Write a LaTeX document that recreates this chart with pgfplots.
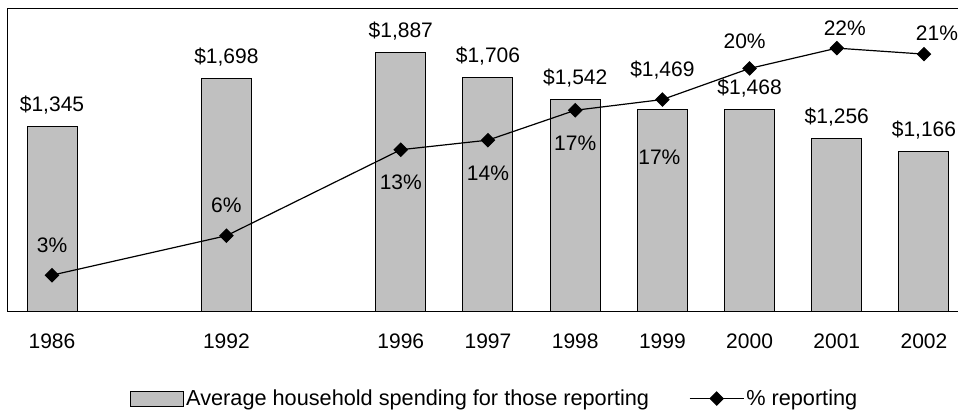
\documentclass[border=0pt]{standalone}
\usepackage{fontspec}
\setmainfont{Liberation Sans}
\usepackage{pgfplots}
\pgfplotsset{compat=1.18}
\definecolor{barfill}{RGB}{192,192,192}
\newcommand{\lf}{\fontsize{21}{25}\selectfont}
\newcommand{\legf}{\fontsize{21.7}{25}\selectfont}
\pgfplotsset{
  common/.style={scale only axis, width=954pt, height=303pt,
    xmin=-0.5046, xmax=10.436, clip=false},
  lab/.style={only marks, mark=none, forget plot, point meta=explicit symbolic,
    nodes near coords, every node near coord/.append style={font=\lf, anchor=base, inner sep=0pt}},
  my line legend/.style={legend image code/.code={\draw[mark repeat=2, mark phase=2, ##1] plot coordinates {(0pt,0pt) (27pt,0pt) (54pt,0pt)};}},
  my bar legend/.style={legend image code/.code={\draw[fill=barfill,draw=black,line width=1pt] (0pt,-7.5pt) rectangle (53pt,7.5pt);}},
}
\begin{document}
\begin{tikzpicture}
\begin{axis}[common, ymin=0, ymax=2210,
  axis line style={line width=1pt},
  xtick={0,2,4,5,6,7,8,9,10},
  xticklabels={1986,1992,1996,1997,1998,1999,2000,2001,2002},
  ytick=\empty, major tick length=0pt,
  xticklabel style={font=\lf, anchor=base, yshift=-37pt}]
\addplot[ybar, bar width=50pt, bar shift=0pt, fill=barfill, draw=black, line width=1pt]
  coordinates {(0,1345) (2,1698) (4,1887) (5,1706) (6,1542) (7,1469) (8,1468) (9,1256) (10,1166)};
\addplot[lab, every node near coord/.append style={yshift=15pt}] coordinates {
  (0,1345) [\$1{,}345] (2,1698) [\$1{,}698] (4,1887) [\$1{,}887] (5,1706) [\$1{,}706]
  (6,1542) [\$1{,}542] (8,1468) [\$1{,}468] (9,1256) [\$1{,}256] (10,1166) [\$1{,}166]};
\addplot[lab, every node near coord/.append style={yshift=33pt}] coordinates {(7,1469) [\$1{,}469]};
\end{axis}
\begin{axis}[common, ymin=0, ymax=25.36, hide axis,
  legend style={draw=none, fill=none, at={(0.1279,-0.289)}, anchor=west,
    legend columns=2, font=\legf, inner sep=0pt,
    /tikz/every even column/.append style={column sep=38pt}},
  legend cell align=left]
\addlegendimage{my bar legend}
\addlegendentry{Average household spending for those reporting}
\addplot[black, line width=1.2pt, mark=square*, mark size=4.6pt, mark options={rotate=45, solid},
  my line legend]
  coordinates {(0,3.0) (2,6.3) (4,13.5) (5,14.3) (6,16.8) (7,17.7) (8,20.3) (9,22.0) (10,21.5)};
\addlegendentry{\% reporting}
\addplot[lab, every node near coord/.append style={yshift=23pt}] coordinates {(0,3.0) [3\%] (2,6.3) [6\%]};
\addplot[lab, every node near coord/.append style={yshift=-40pt}] coordinates {(4,13.5) [13\%] (5,14.3) [14\%] (6,16.8) [17\%]};
\addplot[lab, every node near coord/.append style={yshift=-65pt, xshift=-3pt}] coordinates {(7,17.7) [17\%]};
\addplot[lab, every node near coord/.append style={yshift=20pt, xshift=-5pt}] coordinates {(8,20.3) [20\%]};
\addplot[lab, every node near coord/.append style={yshift=13pt, xshift=8pt}] coordinates {(9,22.0) [22\%]};
\addplot[lab, every node near coord/.append style={yshift=14pt, xshift=13pt}] coordinates {(10,21.5) [21\%]};
\end{axis}
\pgfresetboundingbox
\path[use as bounding box] (-8pt,-99pt) rectangle (950pt,311pt);
\end{tikzpicture}
\end{document}
